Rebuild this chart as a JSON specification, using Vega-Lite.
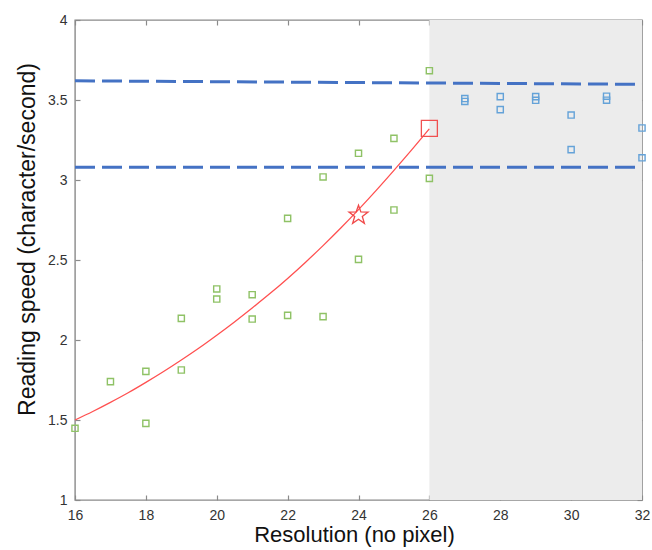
{
  "$schema": "https://vega.github.io/schema/vega-lite/v6.json",
  "width": 567,
  "height": 480,
  "autosize": "none",
  "padding": {"left": 75, "top": 20, "right": 10, "bottom": 50},
  "background": "white",
  "config": {
    "view": {"stroke": "#8a8a8a", "strokeWidth": 1.4},
    "font": "Liberation Sans",
    "axis": {
      "grid": false,
      "domain": false,
      "tickColor": "#8a8a8a",
      "tickWidth": 1.2,
      "tickSize": 5,
      "offset": -5,
      "labelFlush": false,
      "labelColor": "#333333",
      "labelFont": "Liberation Sans",
      "labelFontSize": 14,
      "titleFont": "Liberation Sans",
      "titleColor": "#111111",
      "titleFontWeight": "normal"
    }
  },
  "datasets": {
    "shade": [{"x": 26, "x2": 32, "y": 1, "y2": 4}],
    "dash": [
      {"series": "upper", "x": 16, "y": 3.62},
      {"series": "upper", "x": 32, "y": 3.598},
      {"series": "lower", "x": 16, "y": 3.079},
      {"series": "lower", "x": 32, "y": 3.079}
    ],
    "green": [
      {"x": 16, "y": 1.448}, {"x": 17, "y": 1.74}, {"x": 18, "y": 1.804}, {"x": 18, "y": 1.479},
      {"x": 19, "y": 2.135}, {"x": 19, "y": 1.8125}, {"x": 20, "y": 2.319}, {"x": 20, "y": 2.256},
      {"x": 21, "y": 2.283}, {"x": 21, "y": 2.131}, {"x": 22, "y": 2.76}, {"x": 22, "y": 2.154},
      {"x": 23, "y": 3.019}, {"x": 23, "y": 2.146}, {"x": 24, "y": 3.167}, {"x": 24, "y": 2.504},
      {"x": 25, "y": 3.26}, {"x": 25, "y": 2.8125}, {"x": 26, "y": 3.683}, {"x": 26, "y": 3.01}
    ],
    "blue": [
      {"x": 27, "y": 3.509}, {"x": 27, "y": 3.491}, {"x": 28, "y": 3.521}, {"x": 28, "y": 3.44},
      {"x": 29, "y": 3.521}, {"x": 29, "y": 3.498}, {"x": 30, "y": 3.406}, {"x": 30, "y": 3.19},
      {"x": 31, "y": 3.524}, {"x": 31, "y": 3.499}, {"x": 32, "y": 3.325}, {"x": 32, "y": 3.139}
    ],
    "curve": [
      {"x": 16, "y": 1.5}, {"x": 16.5, "y": 1.553}, {"x": 17, "y": 1.61}, {"x": 17.5, "y": 1.67},
      {"x": 18, "y": 1.735}, {"x": 18.5, "y": 1.803}, {"x": 19, "y": 1.875}, {"x": 19.5, "y": 1.95},
      {"x": 20, "y": 2.03}, {"x": 20.5, "y": 2.113}, {"x": 21, "y": 2.2}, {"x": 21.5, "y": 2.29},
      {"x": 22, "y": 2.385}, {"x": 22.5, "y": 2.485}, {"x": 23, "y": 2.59}, {"x": 23.5, "y": 2.7},
      {"x": 24, "y": 2.815}, {"x": 24.5, "y": 2.935}, {"x": 25, "y": 3.06}, {"x": 25.5, "y": 3.188},
      {"x": 26, "y": 3.32}
    ],
    "bigsquare": [{"x": 26, "y": 3.323}],
    "star": [{"x": 24, "y": 2.78}]
  },
  "layer": [
    {
      "data": {"name": "shade"},
      "mark": {"type": "rect", "color": "#ececec"},
      "encoding": {
        "x": {"field": "x", "type": "quantitative", "scale": {"domain": [16, 32], "nice": false},
              "axis": {"orient": "top", "labels": false, "title": null, "values": [16, 18, 20, 22, 24, 26, 28, 30, 32]}},
        "x2": {"field": "x2"},
        "y": {"field": "y", "type": "quantitative", "scale": {"domain": [1, 4], "nice": false},
              "axis": {"orient": "right", "labels": false, "title": null, "values": [1, 1.5, 2, 2.5, 3, 3.5, 4]}},
        "y2": {"field": "y2"}
      }
    },
    {
      "data": {"name": "dash"},
      "mark": {"type": "line", "color": "#4472c4", "strokeWidth": 3, "strokeDash": [20, 7]},
      "encoding": {
        "x": {"field": "x", "type": "quantitative", "axis": null},
        "y": {"field": "y", "type": "quantitative", "axis": null},
        "detail": {"field": "series"}
      }
    },
    {
      "data": {"name": "green"},
      "mark": {"type": "point", "shape": "square", "filled": false, "size": 38, "stroke": "#8fc266", "strokeWidth": 1.4, "opacity": 1},
      "encoding": {
        "x": {"field": "x", "type": "quantitative",
              "axis": {"orient": "bottom", "values": [16, 18, 20, 22, 24, 26, 28, 30, 32], "labelPadding": 8,
                       "title": "Resolution (no pixel)", "titleFontSize": 22, "titleX": 279, "titleY": 46, "titleBaseline": "alphabetic", "titleAlign": "center"}},
        "y": {"field": "y", "type": "quantitative",
              "axis": {"orient": "left", "values": [1, 1.5, 2, 2.5, 3, 3.5, 4], "format": ".1~f", "labelPadding": 8,
                       "title": "Reading speed (character/second)", "titleFontSize": 23, "titleX": -46, "titleY": 219, "titleBaseline": "alphabetic", "titleAlign": "center", "titleAngle": -90}}
      }
    },
    {
      "data": {"name": "blue"},
      "mark": {"type": "point", "shape": "square", "filled": false, "size": 38, "stroke": "#64a2d8", "strokeWidth": 1.4, "opacity": 1},
      "encoding": {
        "x": {"field": "x", "type": "quantitative", "axis": null},
        "y": {"field": "y", "type": "quantitative", "axis": null}
      }
    },
    {
      "data": {"name": "curve"},
      "mark": {"type": "line", "color": "#ff5050", "strokeWidth": 1.3, "interpolate": "monotone"},
      "encoding": {
        "x": {"field": "x", "type": "quantitative", "axis": null},
        "y": {"field": "y", "type": "quantitative", "axis": null}
      }
    },
    {
      "data": {"name": "bigsquare"},
      "mark": {"type": "point", "shape": "square", "filled": false, "size": 256, "stroke": "#f05050", "strokeWidth": 1.3, "opacity": 1},
      "encoding": {
        "x": {"field": "x", "type": "quantitative", "axis": null},
        "y": {"field": "y", "type": "quantitative", "axis": null}
      }
    },
    {
      "data": {"name": "star"},
      "mark": {"type": "point", "shape": "M0,-1L0.235,-0.324L0.951,-0.309L0.38,0.124L0.588,0.809L0,0.4L-0.588,0.809L-0.38,0.124L-0.951,-0.309L-0.235,-0.324Z", "filled": false, "size": 400, "stroke": "#f04848", "strokeWidth": 1.3, "opacity": 1},
      "encoding": {
        "x": {"field": "x", "type": "quantitative", "axis": null},
        "y": {"field": "y", "type": "quantitative", "axis": null}
      }
    }
  ],
  "resolve": {"axis": {"x": "independent", "y": "independent"}}
}
